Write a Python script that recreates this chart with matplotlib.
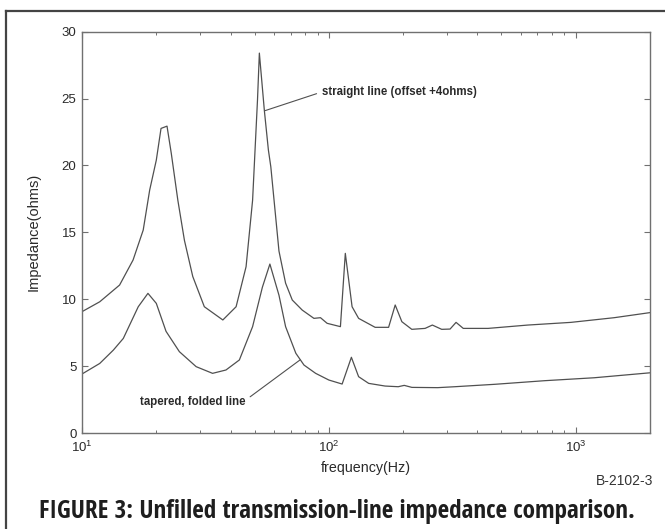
import matplotlib
matplotlib.use("Agg")
import matplotlib.pyplot as plt
from matplotlib import font_manager
from matplotlib.font_manager import FontProperties
from matplotlib.lines import Line2D
from matplotlib.ticker import LogLocator, NullFormatter, FixedLocator

# ---- data ----
straight_freq = [10, 11.8, 14.2, 16.1, 17.7, 18.8, 20.0, 20.9, 22.1, 23.0, 24.45, 26.0,
                 28.1, 31.3, 37.2, 42.1, 46.2, 49.1, 51.4, 52.3, 54.8, 56.9, 58.2, 62.8,
                 66.8, 71.1, 78.0, 87.0, 92.5, 98.4, 111.4, 116.6, 124.2, 132, 154,
                 174.6, 185.7, 197.6, 216.8, 245.4, 262.6, 286.5, 309.8, 327.6, 350.4,
                 441.6, 640, 956, 1432, 2000]
straight_imp = [9.07, 9.81, 11.06, 12.93, 15.17, 18.16, 20.4, 22.77, 22.94, 20.9, 17.4, 14.4,
                11.7, 9.44, 8.45, 9.44, 12.43, 17.4, 24.9, 28.4, 24.1, 21.15, 19.9, 13.6,
                11.2, 9.94, 9.19, 8.57, 8.62, 8.2, 7.95, 13.43, 9.44, 8.57, 7.9,
                7.9, 9.57, 8.32, 7.75, 7.82, 8.07, 7.75, 7.77, 8.27, 7.82,
                7.82, 8.07, 8.27, 8.62, 9.0]

tapered_freq = [10, 11.8, 13.4, 14.7, 16.9, 18.5, 20.0, 21.9, 24.8, 29.0, 33.8, 38.3,
                43.4, 49.1, 53.8, 57.7, 62.8, 66.8, 73.5, 79.3, 88.4, 100, 113.2, 123.4,
                132, 145, 169, 191, 202, 217, 276, 324, 470, 748, 1189, 2000]
tapered_imp = [4.41, 5.2, 6.2, 7.07, 9.44, 10.44, 9.69, 7.6, 6.08, 4.96, 4.46, 4.71,
               5.46, 7.95, 10.9, 12.63, 10.3, 7.95, 5.96, 5.08, 4.46, 3.96, 3.66, 5.66,
               4.21, 3.71, 3.51, 3.46, 3.56, 3.41, 3.39, 3.46, 3.64, 3.91, 4.13, 4.5]

y_ticks = [0, 5, 10, 15, 20, 25, 30]
x_major = [10, 100, 1000]
x_major_labels = [r"$10^{1}$", r"$10^{2}$", r"$10^{3}$"]

label_straight = "straight line (offset +4ohms)"
label_tapered = "tapered, folded line"
caption = "FIGURE 3: Unfilled transmission-line impedance comparison."
code = "B-2102-3"

# ---- fonts ----
plt.rcParams["font.family"] = ["Liberation Sans", "DejaVu Sans"]
plt.rcParams["mathtext.fontset"] = "custom"
plt.rcParams["mathtext.rm"] = "Liberation Sans"
plt.rcParams["mathtext.it"] = "Liberation Sans"


def find_condensed_bold():
    cands = []
    for f in font_manager.fontManager.ttflist:
        nm = f.name.lower()
        fn = f.fname.lower()
        cond = ("condensed" in nm or "narrow" in nm or "condensed" in fn or "narrow" in fn
                or str(f.stretch) in ("condensed", "semi-condensed", "extra-condensed", "ultra-condensed"))
        w = f.weight if isinstance(f.weight, int) else {"bold": 700, "normal": 400}.get(str(f.weight), 400)
        if cond and w >= 600 and f.style == "normal" and "mono" not in nm and "serif" not in nm.replace("sans", ""):
            score = 0
            if "liberation" in nm:
                score -= 3
            if "roboto" in nm or "open sans" in nm:
                score -= 2
            if "semi" in fn or "semi" in str(f.stretch):
                score += 1
            cands.append((score, abs(w - 700), f.fname))
    if cands:
        cands.sort()
        return FontProperties(fname=cands[0][2])
    return FontProperties(family=["Liberation Sans", "DejaVu Sans"], weight="bold")


cap_fp = find_condensed_bold()

W, H = 665, 529
fig = plt.figure(figsize=(W / 100, H / 100), dpi=100)
ax = fig.add_axes([82 / W, 1 - 433 / H, (650 - 82) / W, (433 - 31.7) / H])

line_col = "#505050"
ax.plot(straight_freq, straight_imp, color=line_col, lw=0.9)
ax.plot(tapered_freq, tapered_imp, color=line_col, lw=0.9)

ax.set_xscale("log")
ax.set_xlim(10, 2000)
ax.set_ylim(0, 30)
ax.xaxis.set_major_locator(FixedLocator(x_major))
ax.set_xticklabels(x_major_labels)
ax.xaxis.set_minor_locator(LogLocator(base=10, subs=range(2, 10)))
ax.xaxis.set_minor_formatter(NullFormatter())
ax.set_yticks(y_ticks)
ax.set_yticklabels([str(v) for v in y_ticks])

spine_col = "#707070"
for s in ax.spines.values():
    s.set_color(spine_col)
    s.set_linewidth(1.0)
ax.tick_params(which="both", direction="in", top=True, right=True, color=spine_col,
               labelcolor="#2a2a2a", labelsize=9.5)
ax.tick_params(which="major", length=4, width=0.8, pad=4)
ax.tick_params(which="minor", length=2.5, width=0.7)
ax.tick_params(axis="x", which="major", pad=5)

ax.set_xlabel("frequency(Hz)", fontsize=10.3, color="#2a2a2a", labelpad=4)
ax.set_ylabel("Impedance(ohms)", fontsize=10.5, color="#2a2a2a", labelpad=15)

# annotations
ax.annotate(label_straight, xy=(55.2, 24.1), xytext=(93.8, 25.5),
            ha="left", va="center", fontsize=8.3, fontweight="bold", color="#2a2a2a",
            arrowprops=dict(arrowstyle="-", color=line_col, lw=0.8, shrinkA=2, shrinkB=0,
                            relpos=(0, 0.5)))
ax.annotate(label_tapered, xy=(76.4, 5.46), xytext=(45.8, 2.34),
            ha="right", va="center", fontsize=8.3, fontweight="bold", color="#2a2a2a",
            arrowprops=dict(arrowstyle="-", color=line_col, lw=0.8, shrinkA=2, shrinkB=0,
                            relpos=(1, 0.6)))

# figure texts
fig.text(653 / W, 1 - 481 / H, code, ha="right", va="center", fontsize=10, color="#333333")
cap_fp.set_size(15)
cap = fig.text(337 / W, 1 - 511 / H, caption, ha="center", va="center",
               fontproperties=cap_fp, color="#1e1e1e")
# fit caption to the reference width (~600 px)
r = fig.canvas.get_renderer()
wpx = cap.get_window_extent(r).width
cap_fp.set_size(min(19.0, 15 * 600.0 / wpx))
cap.set_fontproperties(cap_fp)

# border frame (left and top visible)
bx, by = 6 / W, 1 - 11 / H
fig.add_artist(Line2D([bx, bx], [0, by], transform=fig.transFigure, color="#444444", lw=1.6))
fig.add_artist(Line2D([bx, 1], [by, by], transform=fig.transFigure, color="#444444", lw=1.6))

fig.savefig("out.png", dpi=100, facecolor="white")
